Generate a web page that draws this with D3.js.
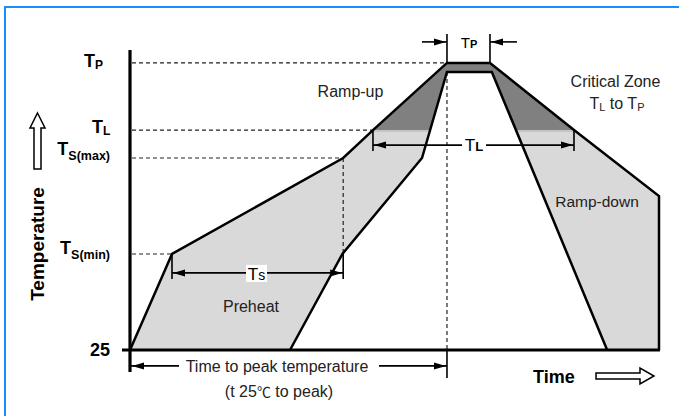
<!DOCTYPE html>
<html><head><meta charset="utf-8">
<script src="https://cdn.jsdelivr.net/npm/d3@7"></script>
<style>
html,body{margin:0;padding:0;background:#fff;}
svg{display:block;font-family:"Liberation Sans",Arial,sans-serif;}
</style></head>
<body>
<svg id="chart" width="679" height="416"></svg>
<script>
// ---- data (schematic units) ----
const levelNames  = ["25", "TS(min)", "TS(max)", "TL", "TP"];
const levelValues = [0, 32, 64, 73.3, 95.7];
// outer (upper) profile limit
const upperTime = [0, 7.94, 40.3, 45.93, 59.92, 68.05, 83.93, 100, 100];
const upperTemp = [0, 32, 64, 73.3, 95.7, 95.7, 73.3, 51.3, 0];
// inner (lower) profile limit
const lowerTime = [30.25, 40.15, 55.2, 59.92, 68.4, 90.2];
const lowerTemp = [0, 32, 64, 92.7, 92.7, 0];
// annotation arrows: [t1, t2, level]
const tsSpan   = [7.94, 40.3, 25.7];
const tlSpan   = [45.93, 83.93, 68.3];
const tpSpan   = [59.92, 68.05, 102.7];
const peakSpan = [0, 59.92, -5.3];

const svg = d3.select("#chart");
const x = d3.scaleLinear().domain([0, 100]).range([130, 659]);
const y = d3.scaleLinear().domain([0, 100]).range([350, 50]);

// blue frame (top + left)
svg.append("line").attr("x1",4).attr("x2",679).attr("y1",7).attr("y2",7).attr("stroke","#1a8cff").attr("stroke-width",2);
svg.append("line").attr("x1",5).attr("x2",5).attr("y1",6).attr("y2",416).attr("stroke","#1a8cff").attr("stroke-width",2);

const upper = upperTime.map((t,i)=>[x(t), y(upperTemp[i])]);
const lower = lowerTime.map((t,i)=>[x(t), y(lowerTemp[i])]);
const band = upper.concat(lower.slice().reverse());
const line = d3.line();

const defs = svg.append("defs");
defs.append("clipPath").attr("id","crit").append("rect")
  .attr("x",0).attr("y",0).attr("width",679).attr("height",y(levelValues[3]));
defs.append("clipPath").attr("id","bandclip").append("path").attr("d", line(band)+"Z");

svg.append("path").attr("d", line(band)+"Z").attr("fill","#d9d9d9");
svg.append("path").attr("d", line(band)+"Z").attr("fill","#808080").attr("clip-path","url(#crit)");
svg.append("line").attr("clip-path","url(#bandclip)")
  .attr("x1",x(0)).attr("x2",x(100)).attr("y1",y(levelValues[3])+1).attr("y2",y(levelValues[3])+1)
  .attr("stroke","#c4c4c4").attr("stroke-width",2);

// dashed guides
const dash = "4,3";
const guideEnds = [null, 7.94, 40.3, 45.93, 59.92];
for (let i=1;i<levelValues.length;i++){
  svg.append("line").attr("x1",x(0)+2).attr("x2",x(guideEnds[i]))
    .attr("y1",y(levelValues[i])).attr("y2",y(levelValues[i]))
    .attr("stroke","#222").attr("stroke-width",1.2).attr("stroke-dasharray",dash);
}
svg.append("line").attr("x1",x(40.3)).attr("x2",x(40.3)).attr("y1",y(64)).attr("y2",y(32))
  .attr("stroke","#222").attr("stroke-width",1.2).attr("stroke-dasharray",dash);
svg.append("line").attr("x1",x(59.92)).attr("x2",x(59.92)).attr("y1",y(92.7)).attr("y2",y(0))
  .attr("stroke","#222").attr("stroke-width",1.2).attr("stroke-dasharray",dash);

// profile outlines
svg.append("path").attr("d", line(upper.slice(0,8).concat([[x(100), y(0)]]))).attr("fill","none")
  .attr("stroke","#000").attr("stroke-width",2.5).attr("stroke-linejoin","miter");
svg.append("path").attr("d", line(lower)).attr("fill","none")
  .attr("stroke","#000").attr("stroke-width",2.5);

// axes
svg.append("line").attr("x1",x(0)).attr("x2",x(0)).attr("y1",y(100)).attr("y2",y(-7.3))
  .attr("stroke","#000").attr("stroke-width",3.2);
svg.append("line").attr("x1",122).attr("x2",x(100)+1).attr("y1",y(0)).attr("y2",y(0))
  .attr("stroke","#000").attr("stroke-width",3.2);

// arrow helper
function arrowHead(px, py, dir){ // dir: +1 right, -1 left
  const L=12, W=3.5;
  svg.append("path").attr("d",`M${px},${py}L${px-dir*L},${py-W}L${px-dir*L},${py+W}Z`).attr("fill","#000");
}
function hline(x1,x2,yy){ svg.append("line").attr("x1",x1).attr("x2",x2).attr("y1",yy).attr("y2",yy).attr("stroke","#000").attr("stroke-width",1.6); }
function vline(xx,y1,y2){ svg.append("line").attr("x1",xx).attr("x2",xx).attr("y1",y1).attr("y2",y2).attr("stroke","#000").attr("stroke-width",1.6); }

// Ts span
{
  const [a,b,l]=tsSpan; const yy=y(l);
  vline(x(a), y(32), yy+6); vline(x(b), y(32), yy+6);
  hline(x(a), x(b), yy); arrowHead(x(a)+1,yy,-1); arrowHead(x(b)-1,yy,1);
  svg.append("rect").attr("x",246).attr("y",yy-8).attr("width",21).attr("height",17).attr("fill","#fff");
  const t = svg.append("text").attr("x",256.5).attr("y",280).attr("text-anchor","middle").attr("fill","#000");
  t.append("tspan").attr("font-size",17).text("T");
  t.append("tspan").attr("font-size",14).text("s");
}
// TL span
{
  const [a,b,l]=tlSpan; const yy=y(l);
  vline(x(a), y(73.3), yy+6); vline(x(b), y(73.3), yy+6);
  hline(x(a), x(b), yy); arrowHead(x(a)+1,yy,-1); arrowHead(x(b)-1,yy,1);
  svg.append("rect").attr("x",462).attr("y",yy-8).attr("width",24).attr("height",17).attr("fill","#fff");
  const t = svg.append("text").attr("x",474).attr("y",151).attr("text-anchor","middle").attr("fill","#000");
  t.append("tspan").attr("font-size",17).text("T");
  t.append("tspan").attr("font-size",13).attr("font-weight","bold").text("L");
}
// TP span (outside arrows)
{
  const [a,b,l]=tpSpan; const yy=y(l);
  vline(x(a), yy-8, y(95.7)); vline(x(b), yy-8, y(95.7));
  hline(x(a)-25, x(a), yy); arrowHead(x(a)-1,yy,1);
  hline(x(b), x(b)+27, yy); arrowHead(x(b)+1,yy,-1);
  const t = svg.append("text").attr("x",469).attr("y",48).attr("text-anchor","middle").attr("fill","#000");
  t.append("tspan").attr("font-size",15).text("T");
  t.append("tspan").attr("font-size",11).attr("font-weight","bold").text("P");
}
// time-to-peak span
{
  const [a,b,l]=peakSpan; const yy=y(l);
  vline(x(b), y(0), y(-9.3));
  hline(x(a)+1, 179, yy); arrowHead(x(a)+2,yy,-1);
  hline(379, x(b), yy); arrowHead(x(b)-1,yy,1);
  svg.append("text").attr("x",277).attr("y",372).attr("text-anchor","middle").attr("font-size",16).attr("fill","#222").text("Time to peak temperature");
  const t2 = svg.append("text").attr("x",279).attr("y",397).attr("text-anchor","middle").attr("font-size",16).attr("fill","#222");
  t2.append("tspan").text("(t 25");
  t2.append("tspan").attr("font-family","'Noto Sans CJK SC'").attr("font-size",14).text("\u2103");
  t2.append("tspan").text(" to peak)");
}

// left level labels
const labelSpec = [
  {i:0, x:110, anchor:"end", base:356},
  {i:1, x:110, anchor:"end", base:254},
  {i:2, x:110, anchor:"end", base:155},
  {i:3, x:92,  anchor:"start", base:132.5},
  {i:4, x:84,  anchor:"start", base:67}
];
labelSpec.forEach(s=>{
  const name = levelNames[s.i];
  const t = svg.append("text").attr("x",s.x).attr("y",s.base).attr("text-anchor",s.anchor)
    .attr("font-weight","bold").attr("fill","#000");
  if (name==="25"){ t.attr("font-size",18).text(name); return; }
  t.append("tspan").attr("font-size",18).text(name[0]);
  t.append("tspan").attr("font-size",s.i<3?12.5:12).attr("dy", s.i<3?5:2).text(name.slice(1));
});

// Temperature label + up arrow
svg.append("text").attr("transform","translate(44,244) rotate(-90)").attr("text-anchor","middle")
  .attr("font-size",19).attr("font-weight","bold").attr("fill","#000").text("Temperature");
svg.append("path").attr("d","M37.5,113L45,128L41,128L41,169L34,169L34,128L30,128Z")
  .attr("fill","#fff").attr("stroke","#000").attr("stroke-width",1.5);

// Time label + right arrow
svg.append("text").attr("x",533).attr("y",383).attr("font-size",18).attr("font-weight","bold").attr("fill","#000").text("Time");
svg.append("path").attr("d","M596,373L640,373L640,368L654,376L640,384L640,379L596,379Z")
  .attr("fill","#fff").attr("stroke","#000").attr("stroke-width",1.5);

// annotations
const ann = (tx,ty,txt,fs)=>svg.append("text").attr("x",tx).attr("y",ty).attr("text-anchor","middle")
  .attr("font-size",fs||16).attr("fill","#222").text(txt);
ann(350.5,97,"Ramp-up");
ann(251,312,"Preheat");
ann(597,207,"Ramp-down",15.5);
ann(615.5,87,"Critical Zone");
{
  const t = svg.append("text").attr("x",617).attr("y",109).attr("text-anchor","middle").attr("fill","#222").attr("font-size",16);
  t.append("tspan").text("T");
  t.append("tspan").attr("font-size",11).attr("dy",2).text("L");
  t.append("tspan").attr("dy",-2).text(" to T");
  t.append("tspan").attr("font-size",11).attr("dy",2).text("P");
}
</script>
</body></html>
